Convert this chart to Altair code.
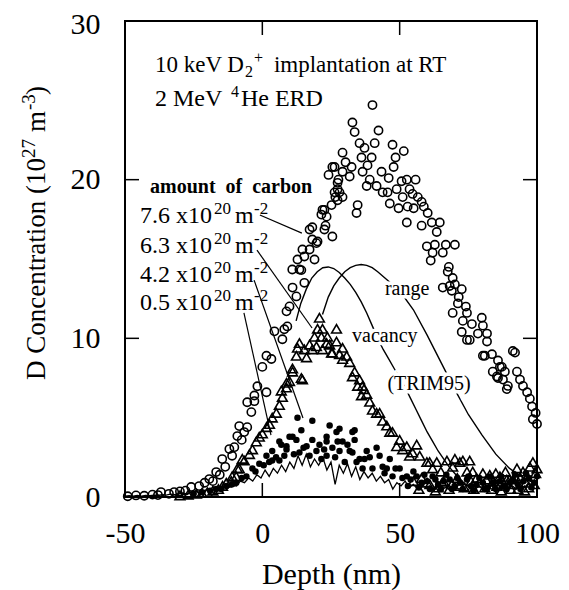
import altair as alt
import pandas as pd

# ---------------- data ----------------
# 7.6e20 m^-2 carbon : open circles
circ_d = [-49, -46, -43, -40, -38, -36.9, -34, -32.1, -30, -28, -25.9, -23, -21, -19.3, -18, -16.8, -15.5,
          -14.6, -13.5, -12, -11, -10.2, -9.1, -8.4, -7.5, -6.6, -5.5, -4, -5.5, -2.9, -2.9, -1.8, 0, 1.5,
          1.5, 3.3, 4.4, 7.3, 8, 9.1, 8.8, 9.9, 11, 12.4, 10.9, 13.5, 12.8, 14.2, 15.3, 15.3, 14.6, 17.2,
          18.2, 19, 20.1, 17.2, 18.2, 19.7, 22.6, 23, 25.5, 21.5, 23.4, 21.9, 22.6, 25.2, 27.4, 26.3, 28.1,
          27.4, 24.1, 26.3, 25.5, 29.2, 29.2, 30.3, 32.5, 31.8, 27.7, 27.4, 29.2, 26.6, 32.8, 33.6, 35.4,
          37.2, 36.1, 36.5, 34.7, 34.3, 38.3, 39.1, 38.0, 39.8, 40.1, 40.9, 42.3, 41.6, 43.4, 43.8, 45.6,
          46.0, 46.4, 47.4, 47.8, 48.5, 48.9, 49.6, 50.7, 51.5, 51.1, 52.6, 52.6, 52.9, 53.6, 54.7, 55.1,
          55.8, 56.6, 58.0, 58.0, 58.8, 59.9, 60.2, 61.3, 61.7, 62.0, 62.8, 63.5, 64.6, 65.7, 65.7, 66.8,
          67.5, 67.9, 68.2, 69.0, 69.3, 69.3, 70.1, 70.1, 71.2, 71.5, 72.6, 72.6, 73.0, 74.1, 74.5, 74.5,
          75.5, 76.3, 78.5, 79.9, 80.3, 80.3, 81.8, 81.8, 81.0, 83.6, 83.9, 85.4, 85.8, 85.8, 86.5, 87.2,
          87.6, 88.3, 89.0, 89.4, 91.2, 92.0, 92.7, 93.8, 94.9, 96.4, 97.4, 98.2, 98.5, 99.5, 100]
circ_c = [0.05, 0.1, 0.08, 0.15, 0.12, 0.31, 0.2, 0.31, 0.35, 0.4, 0.63, 0.69, 0.9, 1.13, 1.0, 1.57, 1.4,
          2.39, 1.9, 3.02, 2.6, 3.14, 3.84, 4.47, 3.6, 4.09, 4.4, 5.35, 5.97, 6.04, 6.4, 6.98, 8.2, 6.6,
          8.9, 8.7, 10.44, 9.94, 10.57, 10.75, 11.7, 12.01, 13.2, 12.64, 14.34, 14.34, 14.97, 14.3, 13.5, 15.16, 15.6, 15.6,
          16.23, 14.97, 16.1, 16.86, 17.0, 16.0, 16.86, 17.1, 16.42, 17.8, 17.67, 18.1, 18.1, 18.4, 18.7, 19.2, 19.2,
          19.8, 20.3, 20.8, 20.8, 20.5, 21.7, 21.1, 20.8, 20.2, 20.0, 19.4, 18.9, 18.9, 23.6, 23.0, 22.3,
          22.0, 21.4, 20.5, 18.4, 17.9, 20.9, 20.0, 19.6, 21.4, 24.7, 22.3, 23.1, 19.6, 20.5, 19.2, 19.2,
          20.1, 18.5, 22.2, 20.8, 21.4, 19.4, 18.2, 19.9, 21.8, 18.9, 20.0, 17.3, 18.3, 19.4, 19.1, 18.2,
          20.0, 18.9, 18.6, 17.1, 18.3, 15.8, 17.9, 14.9, 17.3, 15.4, 15.9, 16.7, 17.3, 15.4, 13.2, 15.9,
          14.2, 14.5, 13.3, 13.0, 13.8, 11.6, 15.9, 13.4, 12.2, 12.6, 13.1, 10.4, 11.1, 12.0, 11.6, 9.9,
          9.9, 10.9, 10.3, 11.3, 10.8, 8.9, 10.3, 9.8, 8.9, 9.0, 7.9, 7.6, 8.6, 7.5, 8.2, 8.2,
          7.4, 7.9, 6.8, 7.0, 9.2, 9.1, 7.9, 7.4, 7.0, 6.6, 6.2, 5.7, 4.9, 5.3, 4.6]

# 6.3e20 m^-2 carbon : open triangles
tri_d = [-30, -27, -24, -22, -20, -18, -16, -14.5, -13.1, -11.3, -11, -9.5, -9.1, -8.4, -7.3, -6.6, -4.7, -3.6,
         -2.2, -1.1, 0, 1.5, 2.6, 3.6, 5.1, 6.2, 6.9, 7.3, 8.8, 8.8, 9.9, 11.0, 11.0, 12.4, 12.8, 13.5,
         14.2, 14.6, 15.3, 16.1, 17.2, 18.2, 19.0, 19.7, 20.1, 20.8, 21.5, 21.9, 21.9, 23.4, 23.7, 24.5,
         25.2, 25.5, 27.0, 27.0, 28.1, 29.2, 29.2, 30.7, 31.8, 32.8, 33.6, 34.7, 35.4, 36.1, 36.5, 37,
         38.0, 39.1, 40.1, 41.6, 42.7, 43.8, 45.3, 46.4, 47.4, 48.9, 50.0, 51.1, 52.6, 53.6, 54.7, 56.2,
         57.3, 58, 59.9, 60.9, 61, 62.0, 63.5, 64, 65, 66, 67.2, 68, 69.3, 70.1, 71.9, 72, 73.0, 74.5,
         75.5, 76.6, 77, 78, 80.3, 81, 82.8, 84, 85.4, 86.5, 87, 88, 89.0, 90.0, 91.5, 92.7, 93, 94.0,
         94.9, 96, 97, 97.4, 98.5, 99.5,
         55, 57, 60, 63, 65.5, 69, 71, 73.5, 76, 79, 81.5, 83.5, 85, 88.5, 90.5, 92, 95.5, 96.5, 99, 100]
tri_c = [0.1, 0.15, 0.2, 0.25, 0.3, 0.4, 0.5, 0.7, 0.9, 1.0, 1.3, 1.3, 1.8, 1.8, 2.4, 2.3, 2.7, 3.0,
         3.5, 3.8, 4.0, 4.4, 4.6, 5.0, 5.3, 5.8, 6.7, 6.3, 6.9, 7.2, 7.3, 7.9, 8.1, 8.9, 9.4, 9.7,
         7.5, 7.4, 9.3, 8.8, 9.6, 9.3, 10.1, 9.5, 10.6, 11.3, 10.1, 10.6, 9.3, 9.7, 10.1, 9.6,
         9.1, 9.1, 10.6, 9.8, 9.0, 9.4, 8.7, 8.9, 8.5, 7.6, 7.9, 7.0, 7.4, 6.4, 7.0, 6.8,
         6.5, 6.0, 5.5, 5.3, 5.3, 4.8, 4.5, 4.1, 4.1, 3.2, 3.6, 3.0, 3.2, 2.6, 2.8, 3.3,
         2.6, 1.2, 2.2, 2.2, 0.8, 1.8, 2.2, 0.6, 1.6, 1.0, 2.3, 0.5, 1.9, 2.4, 2.2, 0.7, 2.3, 1.6,
         2.3, 1.6, 0.5, 1.2, 1.5, 0.6, 1.4, 1.0, 0.7, 1.3, 0.4, 0.8, 1.1, 1.1, 0.8, 1.8, 0.5, 1.2,
         1.6, 0.9, 0.6, 1.9, 2.2, 1.5,
         1.0, 0.5, 0.9, 0.4, 0.9, 0.8, 1.2, 0.6, 1.0, 0.9, 1.1, 0.5, 1.5, 1.6, 0.5, 1.3, 0.4, 1.3, 0.8, 1.8]

# 4.2e20 m^-2 carbon : filled dots
dot_d = [-25, -22, -19, -16.8, -15, -13.1, -11, -9.5, -7.5, -5.8, -3.6, -2.5, -1.1, 0.5, 1.5, 2.5, 3.6, 3.6,
         5.0, 6.2, 6.2, 6.9, 8.0, 8.8, 8.8, 9.9, 11.0, 11.5, 12.4, 12.8, 13.5, 14.2, 15.0, 16.1, 17.2,
         18.2, 18.2, 19.7, 20.8, 21.5, 22.5, 23.4, 23.4, 23.4, 24.5, 25.5, 26.5, 27.0, 27.4, 28.1, 28.1,
         29.2, 30.0, 31.0, 31.8, 32.8, 32.8, 33.6, 33.6, 34.3, 35.4, 36.5, 37.2, 38.0, 39.1, 40.1, 41.6,
         42.7, 43.8, 44.5, 45.3, 46.4, 47.4, 48.5, 50.0, 51, 52.6, 54, 56.2, 58, 60, 62.0, 64, 66, 68.2,
         70, 72, 74.5, 76, 78, 80.3, 82, 84, 86.5, 88, 90, 91.2, 93, 95, 97, 99,
         53, 55, 57, 59, 61, 63, 65, 67, 69, 71, 73, 75, 77, 79, 81, 83, 85, 87, 89, 92, 94, 96, 98, 100]
dot_c = [0.2, 0.3, 0.4, 0.5, 0.5, 0.7, 0.8, 0.9, 1.2, 1.3, 1.8, 1.6, 2.1, 2.0, 2.6, 2.2, 2.3, 2.9,
         2.5, 2.3, 3.5, 3.3, 2.6, 3.0, 3.2, 3.8, 3.8, 2.7, 3.6, 5.0, 2.8, 4.2, 3.1, 3.2, 2.6,
         4.8, 3.6, 2.9, 3.3, 2.4, 3.0, 3.8, 2.6, 3.5, 4.5, 3.1, 2.5, 4.1, 3.5, 4.3, 2.9,
         3.5, 2.2, 3.3, 2.9, 4.1, 2.8, 4.2, 3.6, 2.2, 2.4, 1.8, 2.4, 2.9, 2.5, 1.8, 3.1,
         2.6, 1.9, 1.5, 1.8, 2.4, 1.3, 1.8, 1.8, 1.2, 1.3, 1.1, 1.3, 0.9, 1.0, 1.3, 0.8, 1.0, 1.1,
         0.7, 0.9, 1.1, 0.7, 0.8, 0.9, 0.6, 0.9, 1.0, 0.7, 0.9, 1.1, 0.8, 1.0, 1.2, 0.9,
         0.7, 1.6, 0.6, 1.4, 0.5, 1.1, 0.5, 1.4, 0.5, 1.2, 0.5, 1.3, 0.4, 1.2, 0.5, 1.3, 0.5, 1.3, 0.5, 1.4,
         0.5, 1.5, 0.6, 1.3]

# 0.5e20 m^-2 carbon : noisy line
line_d = [-50, -48.5, -47, -45.5, -44, -42.5, -41, -39.5, -38, -36.5, -35, -33.5, -32, -30.5, -29, -27.5,
          -26, -24.5, -23, -21.5, -20, -18.5, -17, -15.5, -14, -12.5, -11, -9.5, -8, -6.5, -5, -3.5, -2,
          -0.5, 1, 2.5, 4, 5.5, 7, 8.5, 10, 11.5, 13, 14.5, 16, 17.5, 19, 20.5, 22, 23.5, 25, 26.5, 28,
          29.5, 31, 32.5, 34, 35.5, 37, 38.5, 40, 41.5, 43, 44.5, 46, 47.5, 49, 50.5, 52, 53.5, 55, 56.5,
          58, 59.5, 61, 62.5, 64, 65.5, 67, 68.5, 70, 71.5, 73, 74.5, 76, 77.5, 79, 80.5, 82, 83.5, 85,
          86.5, 88, 89.5, 91, 92.5, 94, 95.5, 97, 98.5, 100]
line_c = [0.05, 0.08, 0.05, 0.1, 0.06, 0.1, 0.08, 0.12, 0.1, 0.15, 0.12, 0.18, 0.15, 0.2, 0.25, 0.2,
          0.3, 0.35, 0.3, 0.4, 0.45, 0.5, 0.4, 0.6, 0.7, 0.55, 0.8, 0.7, 1.0, 0.9, 1.2, 1.0, 1.4,
          1.2, 1.7, 1.3, 1.8, 1.5, 2.0, 1.6, 2.2, 1.8, 2.6, 2.0, 2.7, 1.9, 2.4, 2.0, 2.5, 1.7, 2.2, 0.8, 2.0,
          1.5, 2.1, 1.3, 1.9, 1.1, 1.6, 1.2, 1.5, 1.0, 1.3, 0.9, 1.1, 0.5, 0.9, 0.7, 1.0, 0.6, 0.8, 0.5,
          0.8, 0.6, 0.7, 0.4, 0.7, 0.5, 0.6, 0.4, 0.7, 0.5, 0.6, 0.4, 0.6, 0.5, 0.7, 0.4, 0.6, 0.5, 0.7,
          0.4, 0.6, 0.5, 0.7, 0.5, 0.8, 0.6, 0.9, 0.7, 1.0]

# TRIM95 profiles
vac_d = [12.3, 14, 16, 18, 20, 22, 24, 26, 28, 30, 32, 34, 36, 38, 40, 42, 44, 46, 48, 50, 52, 54, 56, 58,
         60, 62, 64, 66, 68, 70, 72, 74, 76]
vac_c = [11.1, 12.2, 13.1, 13.8, 14.2, 14.45, 14.5, 14.4, 14.15, 13.8, 13.4, 12.9, 12.3, 11.6, 10.8, 10.0,
         9.3, 8.7, 8.1, 7.5, 6.9, 6.2, 5.5, 4.8, 4.1, 3.5, 2.9, 2.4, 1.9, 1.5, 1.1, 0.8, 0.5]
rng_d = [21.9, 24, 26, 28, 30, 32, 34, 36, 38, 40, 42, 44, 46, 48, 50, 55, 60, 65, 70, 75, 80, 85, 90, 95, 100]
rng_c = [11.5, 12.6, 13.3, 13.8, 14.2, 14.45, 14.6, 14.65, 14.6, 14.45, 14.2, 13.9, 13.6, 13.3, 13.0, 11.8,
         10.2, 8.5, 6.8, 5.2, 3.9, 2.7, 1.8, 1.2, 0.8]

# ---------------- annotation texts ----------------
carbon_main = ["7.6 x10", "6.3 x10", "4.2 x10", "0.5 x10"]
carbon_sup1 = ["20", "20", "20", "20"]
carbon_unit = ["m", "m", "m", "m"]
carbon_sup2 = ["-2", "-2", "-2", "-2"]
carbon_label_d = [-44.5, -44.5, -44.5, -44.5]
carbon_label_c = [17.26, 15.37, 13.55, 11.78]
ptr_d1 = [-0.9, -1.95, -3.0, -6.7]
ptr_c1 = [17.77, 15.56, 13.67, 11.6]
ptr_d2 = [14.4, 18.1, 14.8, 3.15]
ptr_c2 = [16.63, 10.65, 4.98, 3.9]

head1_parts = ["10 keV D", "2", "+", "implantation at RT"]
head2_parts = ["2 MeV", "4", "He ERD"]
head_d = -39.1
head_c = [26.8, 24.64]
carbon_title = "amount\u00a0 of\u00a0 carbon"
carbon_title_pos = (-40.9, 19.16)

curve_labels = ["range", "vacancy", "(TRIM95)"]
curve_label_d = [52.7, 44.6, 60.7]
curve_label_c = [12.73, 9.77, 6.74]

y_title_parts = ["D Concentration (10", "27", "m", "-3", ")"]

x_tick_labels = [-50, 0, 50, 100]
y_tick_labels = [0, 10, 20, 30]
x_inner_ticks = [0, 50]
y_inner_ticks = [10, 20]

# ---------------- chart ----------------
W, H = 412, 476
FONT = "Liberation Serif"
xs = alt.Scale(domain=[-50, 100], nice=False, zero=False)
ys = alt.Scale(domain=[0, 30], nice=False, zero=False)

x_axis = alt.Axis(values=x_tick_labels, title="Depth (nm)", grid=False, ticks=False, tickSize=0,
                  domain=False, labelFlush=False, labelOverlap=False, labelBaseline="alphabetic",
                  labelPadding=45, titleY=86, titleBaseline="alphabetic", titleFontSize=30,
                  labelExpr="datum.value < 0 ? '-' + abs(datum.value) : '' + datum.value")
y_axis = alt.Axis(values=y_tick_labels, title=None, grid=False, ticks=False,
                  tickSize=0, domain=False, labelFlush=False, labelOverlap=False, labelPadding=25,
                  labelOffset={"condition": {"test": "datum.value == 30", "value": 3}, "value": 0})


def X(field="d"):
    return alt.X(f"{field}:Q", scale=xs, axis=x_axis)


def Y(field="c"):
    return alt.Y(f"{field}:Q", scale=ys, axis=y_axis)


circ_df = pd.DataFrame({"d": circ_d, "c": circ_c})
tri_df = pd.DataFrame({"d": tri_d, "c": tri_c})
dot_df = pd.DataFrame({"d": dot_d, "c": dot_c})
line_df = pd.DataFrame({"d": line_d, "c": line_c})
vac_df = pd.DataFrame({"d": vac_d, "c": vac_c})
rng_df = pd.DataFrame({"d": rng_d, "c": rng_c})

circles = alt.Chart(circ_df).mark_point(shape="circle", filled=False, size=68, color="black",
                                        strokeWidth=1.6, opacity=1).encode(x=X(), y=Y())
triangles = alt.Chart(tri_df).mark_point(shape="triangle-up", filled=False, size=95, color="black",
                                         strokeWidth=1.6, opacity=1).encode(x=X(), y=Y())
dots = alt.Chart(dot_df).mark_point(shape="circle", filled=True, size=42, color="black",
                                    opacity=1).encode(x=X(), y=Y())
noisy = alt.Chart(line_df).mark_line(color="black", strokeWidth=1.3).encode(x=X(), y=Y(), order="d:Q")
vac = alt.Chart(vac_df).mark_line(color="black", strokeWidth=1.4).encode(x=X(), y=Y(), order="d:Q")
rng = alt.Chart(rng_df).mark_line(color="black", strokeWidth=1.4).encode(x=X(), y=Y(), order="d:Q")

ptr_df = pd.DataFrame({"d": ptr_d1, "c": ptr_c1, "d2": ptr_d2, "c2": ptr_c2})
pointers = alt.Chart(ptr_df).mark_rule(color="black", strokeWidth=1.2).encode(
    x=X(), y=Y(), x2="d2:Q", y2="c2:Q")

cl_df = pd.DataFrame({"d": carbon_label_d, "c": carbon_label_c, "main": carbon_main,
                      "s1": carbon_sup1, "u": carbon_unit, "s2": carbon_sup2})


def txt(df, field, size, dx=0, dy=0, align="left", weight="normal"):
    return alt.Chart(df).mark_text(font=FONT, fontSize=size, align=align, baseline="alphabetic",
                                   color="black", dx=dx, dy=dy, fontWeight=weight).encode(
        x=X(), y=Y(), text=f"{field}:N")


carbon_layers = [
    txt(cl_df, "main", 24),
    txt(cl_df, "s1", 17, dx=74, dy=-9),
    txt(cl_df, "u", 24, dx=95),
    txt(cl_df, "s2", 17, dx=114, dy=-9),
]

h1_df = pd.DataFrame({"d": [head_d], "c": [head_c[0]], "a": [head1_parts[0]], "b": [head1_parts[1]],
                      "p": [head1_parts[2]], "r": [head1_parts[3]]})
h2_df = pd.DataFrame({"d": [head_d], "c": [head_c[1]], "a": [head2_parts[0]], "b": [head2_parts[1]],
                      "r": [head2_parts[2]]})
head_layers = [
    txt(h1_df, "a", 23),
    txt(h1_df, "b", 16, dx=90, dy=5),
    txt(h1_df, "p", 16, dx=99, dy=-9),
    txt(h1_df, "r", 23, dx=119),
    txt(h2_df, "a", 24),
    txt(h2_df, "b", 16, dx=76, dy=-9),
    txt(h2_df, "r", 24, dx=86),
]

ct_df = pd.DataFrame({"d": [carbon_title_pos[0]], "c": [carbon_title_pos[1]], "t": [carbon_title]})
ctitle = txt(ct_df, "t", 20, weight="bold")

cv_df = pd.DataFrame({"d": curve_label_d, "c": curve_label_c, "t": curve_labels})
cv_halo = alt.Chart(cv_df).mark_text(font=FONT, fontSize=20, align="center", baseline="alphabetic",
                                     color="white", stroke="white", strokeWidth=7).encode(
    x=X(), y=Y(), text="t:N")
cv_text = txt(cv_df, "t", 20, align="center")

# rotated y-axis title built from pieces (for real superscripts)
yt_df = pd.DataFrame({"p0": [y_title_parts[0]], "p1": [y_title_parts[1]], "p2": [y_title_parts[2]],
                      "p3": [y_title_parts[3]], "p4": [y_title_parts[4]]})


def ytitle(field, size, dx, dy=0):
    return alt.Chart(yt_df).mark_text(font=FONT, fontSize=size, align="left", baseline="alphabetic",
                                      angle=270, color="black", dx=dx, dy=dy).encode(
        x=alt.value(-80), y=alt.value(359), text=f"{field}:N")


ytitle_layers = [
    ytitle("p0", 27, 0),
    ytitle("p1", 19, 222, -10),
    ytitle("p2", 27, 248),
    ytitle("p3", 19, 270, -10),
    ytitle("p4", 27, 285),
]

xt_df = pd.DataFrame({"d": x_inner_ticks})
ytk_df = pd.DataFrame({"c": y_inner_ticks})
tick_len = 14
xt_bot = alt.Chart(xt_df).mark_rule(color="black", strokeWidth=1.5).encode(
    x=X(), y=alt.value(H), y2=alt.value(H - tick_len))
xt_top = alt.Chart(xt_df).mark_rule(color="black", strokeWidth=1.5).encode(
    x=X(), y=alt.value(0), y2=alt.value(tick_len))
yt_left = alt.Chart(ytk_df).mark_rule(color="black", strokeWidth=1.5).encode(
    y=Y(), x=alt.value(0), x2=alt.value(tick_len))
yt_right = alt.Chart(ytk_df).mark_rule(color="black", strokeWidth=1.5).encode(
    y=Y(), x=alt.value(W), x2=alt.value(W - tick_len))

chart = alt.layer(
    circles, vac, rng, noisy, dots, triangles, pointers,
    cv_halo, cv_text, *carbon_layers, *head_layers, ctitle, *ytitle_layers,
    xt_bot, xt_top, yt_left, yt_right,
).properties(
    width=W, height=H,
    autosize=alt.AutoSizeParams(type="none"),
    padding={"left": 117, "top": 13, "right": 24, "bottom": 93},
    background="white",
).configure_view(
    stroke="black", strokeWidth=2
).configure_axis(
    labelFont=FONT, labelFontSize=30, labelColor="black",
    titleFont=FONT, titleColor="black", titleFontWeight="normal",
)

chart.save("out.html", embed_options={"renderer": "svg", "actions": False})
